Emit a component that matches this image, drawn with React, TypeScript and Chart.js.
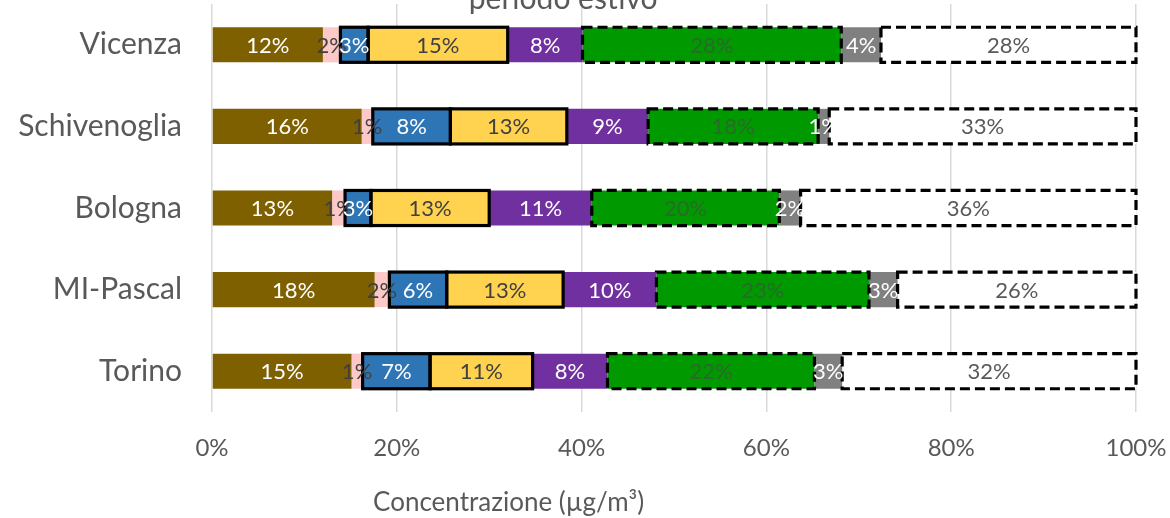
import React, { useEffect, useRef } from 'react';
import { Chart, registerables } from 'chart.js';

Chart.register(...registerables);

const categories = ['Vicenza', 'Schivenoglia', 'Bologna', 'MI-Pascal', 'Torino'];

const seriesNames = ['Comp. 1', 'Comp. 2', 'Comp. 3', 'Comp. 4', 'Comp. 5', 'Comp. 6', 'Comp. 7', 'Comp. 8'];

const brownValues = [12.0, 16.2, 13.0, 17.6, 15.1];
const pinkValues = [1.9, 1.2, 1.4, 1.6, 1.2];
const blueValues = [3.0, 8.4, 2.8, 6.2, 7.3];
const yellowValues = [15.1, 12.6, 12.8, 12.6, 11.1];
const purpleValues = [8.1, 8.8, 11.1, 10.1, 8.1];
const greenValues = [28.0, 18.4, 20.3, 23.0, 22.4];
const grayValues = [4.3, 1.2, 2.3, 3.1, 3.0];
const whiteValues = [27.6, 33.2, 36.3, 25.8, 31.8];

const xTicks = [0, 20, 40, 60, 80, 100];

const chartTitle = 'periodo estivo';
const axisTitle = 'Concentrazione (µg/m³)';

const seriesValues = [brownValues, pinkValues, blueValues, yellowValues, purpleValues, greenValues, grayValues, whiteValues];
const fillColors = ['#7f6000', '#fcc8c8', '#2e75b6', '#ffd24f', '#7030a0', '#009900', '#808080', '#ffffff'];
const labelColors = ['#ffffff', '#404040', '#ffffff', '#404040', '#ffffff', '#2a6a2a', '#ffffff', '#595959'];
const borderKinds: (null | 'solid' | 'dashed')[] = [null, null, 'solid', 'solid', null, 'dashed', null, 'dashed'];

const FONT = 'Lato, "Open Sans", "DejaVu Sans", sans-serif';
const TEXT = '#595959';

const overlayPlugin = {
  id: 'overlay',
  afterDatasetsDraw(chart: any) {
    const ctx = chart.ctx;
    chart.data.datasets.forEach((_ds: any, di: number) => {
      const kind = borderKinds[di];
      if (!kind) return;
      const meta = chart.getDatasetMeta(di);
      meta.data.forEach((el: any) => {
        const p = el.getProps(['x', 'y', 'base', 'height'], true);
        ctx.save();
        ctx.strokeStyle = '#000000';
        ctx.lineWidth = 3.2;
        ctx.setLineDash(kind === 'dashed' ? [10, 5] : []);
        ctx.strokeRect(Math.min(p.base, p.x), p.y - p.height / 2, Math.abs(p.x - p.base), p.height);
        ctx.restore();
      });
    });
    chart.data.datasets.forEach((ds: any, di: number) => {
      const meta = chart.getDatasetMeta(di);
      meta.data.forEach((el: any, i: number) => {
        const p = el.getProps(['x', 'y', 'base'], true);
        const v = ds.data[i];
        ctx.save();
        ctx.font = `22px ${FONT}`;
        ctx.fillStyle = labelColors[di];
        ctx.textAlign = 'center';
        ctx.textBaseline = 'middle';
        ctx.fillText(`${Math.round(v)}%`, (p.x + p.base) / 2, p.y + 1);
        ctx.restore();
      });
    });
  },
  afterDraw(chart: any) {
    const ctx = chart.ctx;
    const a = chart.chartArea;
    ctx.save();
    ctx.fillStyle = TEXT;
    ctx.textAlign = 'center';
    ctx.font = `26px ${FONT}`;
    ctx.textBaseline = 'middle';
    ctx.fillText(axisTitle, a.left + (a.right - a.left) * 0.321, chart.height - 15);
    ctx.font = `30px ${FONT}`;
    ctx.textBaseline = 'alphabetic';
    ctx.fillText(chartTitle, a.left + (a.right - a.left) * 0.38, 9);
    ctx.restore();
  },
};

export default function App() {
  const ref = useRef<HTMLCanvasElement | null>(null);

  useEffect(() => {
    document.body.style.margin = '0';
    const canvas = ref.current;
    if (!canvas) return;
    const chart = new Chart(canvas, {
      type: 'bar',
      data: {
        labels: categories,
        datasets: seriesValues.map((vals, i) => ({
          label: seriesNames[i],
          data: vals,
          backgroundColor: fillColors[i],
          borderWidth: 0,
          barPercentage: 0.43,
          categoryPercentage: 1,
        })),
      },
      options: {
        indexAxis: 'y',
        responsive: false,
        animation: false,
        devicePixelRatio: 1,
        layout: { padding: { left: 0, right: 34, top: 4, bottom: 0 } },
        plugins: {
          legend: { display: false },
          tooltip: { enabled: false },
          title: { display: false },
        },
        scales: {
          x: {
            type: 'linear',
            stacked: true,
            min: 0,
            max: 100,
            afterBuildTicks: (s: any) => {
              s.ticks = xTicks.map((v) => ({ value: v }));
            },
            afterFit: (s: any) => {
              s.height = 106;
              s.paddingLeft = 0;
              s.paddingRight = 0;
              s.paddingTop = 0;
              s.paddingBottom = 0;
            },
            ticks: {
              callback: (v: any) => `${v}%`,
              color: TEXT,
              font: { family: FONT, size: 24 },
              padding: 22,
              maxRotation: 0,
            },
            grid: { color: '#d9d9d9', lineWidth: 1.5, drawTicks: false },
            border: { display: false },
          },
          y: {
            type: 'category',
            stacked: true,
            afterFit: (s: any) => {
              s.width = 212;
              s.paddingTop = 0;
              s.paddingBottom = 0;
              s.paddingLeft = 0;
              s.paddingRight = 0;
            },
            ticks: {
              color: TEXT,
              font: { family: FONT, size: 30 },
              padding: 30,
            },
            grid: { display: false, drawTicks: false },
            border: { display: false },
          },
        },
      },
      plugins: [overlayPlugin],
    } as any);
    return () => chart.destroy();
  }, []);

  return (
    <div style={{ width: 1170, height: 518, background: '#ffffff', overflow: 'hidden' }}>
      <canvas ref={ref} width={1170} height={518} style={{ display: 'block' }} />
    </div>
  );
}
